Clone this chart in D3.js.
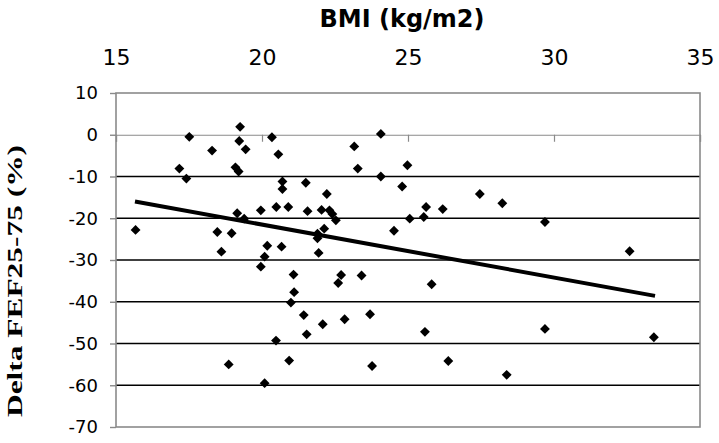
<!DOCTYPE html>
<html>
<head>
<meta charset="utf-8">
<script src="https://cdn.jsdelivr.net/npm/d3@7"></script>
<style>
  body { margin: 0; background: #fff; }
  svg { display: block; }
</style>
</head>
<body>
<svg id="chart" width="719" height="443"></svg>
<script>
// BMI vs change in FEF25-75
const bmi = [
    19.25, 17.51, 20.34, 19.22, 19.44, 18.29, 20.56, 17.17, 19.09, 19.20,
    17.41, 20.70, 21.50, 20.70, 22.22, 20.49, 20.90, 19.96, 21.56, 19.15,
    22.04, 22.31, 22.41, 22.53, 19.39, 15.67, 18.47, 18.96, 22.13, 21.90,
    21.90, 20.18, 20.67, 18.61, 21.94, 20.09, 19.96, 21.08, 22.71, 21.10,
    20.99, 21.43, 22.08, 21.53, 20.48, 18.86, 20.93, 20.09, 22.61, 24.07,
    23.16, 24.98, 23.28, 24.07, 24.80, 27.46, 28.23, 25.62, 26.19, 25.06,
    25.54, 24.52, 23.41, 25.81, 22.83, 23.70, 25.58, 23.77, 26.38, 28.38,
    29.69, 32.59, 29.69, 33.42
];
const deltaFef = [
    1.9, -0.5, -0.6, -1.5, -3.5, -3.8, -4.7, -8.1, -7.8, -8.8,
    -10.5, -11.2, -11.5, -13.0, -14.2, -17.3, -17.3, -18.1, -18.3, -18.8,
    -18.0, -18.1, -19.0, -20.5, -20.1, -22.8, -23.3, -23.6, -22.5, -23.7,
    -24.8, -26.6, -26.8, -28.0, -28.3, -29.2, -31.6, -33.5, -33.6, -37.7,
    -40.2, -43.2, -45.4, -47.8, -49.3, -55.0, -54.1, -59.5, -35.5, 0.2,
    -2.8, -7.3, -8.1, -10.0, -12.4, -14.2, -16.4, -17.3, -17.8, -20.1,
    -19.7, -23.0, -33.7, -35.8, -44.2, -43.0, -47.2, -55.4, -54.2, -57.5,
    -20.9, -27.9, -46.5, -48.5
];

// linear trend line end points
const trendBmi = [15.65, 33.46];
const trendDelta = [-16.0, -38.6];

const xTicks = [15, 20, 25, 30, 35];
const yTicks = [10, 0, -10, -20, -30, -40, -50, -60, -70];

const margin = {top: 93, right: 19, bottom: 16, left: 116};
const width = 719 - margin.left - margin.right;
const height = 443 - margin.top - margin.bottom;

const svg = d3.select("#chart");
const g = svg.append("g")
    .attr("transform", `translate(${margin.left},${margin.top})`);

const x = d3.scaleLinear().domain([15, 35]).range([0, width]);
const y = d3.scaleLinear().domain([-70, 10]).range([height, 0]);

// horizontal grid lines, the edge ones and the zero line are grey
g.selectAll("line.grid")
    .data(yTicks.filter(d => d !== 10 && d !== -70 && d !== 0))
    .enter().append("line")
    .attr("class", "grid")
    .attr("x1", 0).attr("x2", width)
    .attr("y1", d => y(d)).attr("y2", d => y(d))
    .attr("stroke", "#000")
    .attr("stroke-width", 1.6);

// plot frame
g.append("rect")
    .attr("x", 0).attr("y", 0)
    .attr("width", width).attr("height", height)
    .attr("fill", "none")
    .attr("stroke", "#8a8a8a")
    .attr("stroke-width", 1.6);

// y axis (plain hyphen for the minus, like the original)
const yAxis = g.append("g")
    .call(d3.axisLeft(y).tickValues(yTicks).tickSize(6).tickPadding(12)
        .tickFormat(d => String(d)));
yAxis.select(".domain").remove();
yAxis.selectAll(".tick line").attr("stroke", "#8a8a8a").attr("stroke-width", 1.4);
yAxis.selectAll("text")
    .attr("font-family", "'DejaVu Sans', Verdana, sans-serif")
    .attr("font-size", 18)
    .attr("fill", "#000");

// x axis crosses at zero, labels sit above the plot
const xAxisLine = g.append("g")
    .attr("transform", `translate(0,${y(0)})`)
    .call(d3.axisBottom(x).tickValues(xTicks).tickSize(7).tickFormat(""));
xAxisLine.select(".domain").attr("stroke", "#8a8a8a").attr("stroke-width", 1.2);
xAxisLine.selectAll(".tick line").attr("stroke", "#8a8a8a").attr("stroke-width", 1.2);

const xLabels = g.append("g")
    .call(d3.axisTop(x).tickValues(xTicks).tickSize(0).tickPadding(28));
xLabels.select(".domain").remove();
xLabels.selectAll("text")
    .attr("font-family", "'DejaVu Sans', Verdana, sans-serif")
    .attr("font-size", 22)
    .attr("fill", "#000");

// trend line
const trendLine = d3.line()
    .x(d => x(d[0]))
    .y(d => y(d[1]));
g.append("path")
    .datum(d3.zip(trendBmi, trendDelta))
    .attr("d", trendLine)
    .attr("fill", "none")
    .attr("stroke", "#000")
    .attr("stroke-width", 4);

// points
const diamond = d3.symbol().type(d3.symbolDiamond2).size(62);
g.selectAll("path.pt")
    .data(d3.zip(bmi, deltaFef))
    .enter().append("path")
    .attr("class", "pt")
    .attr("d", diamond)
    .attr("transform", d => `translate(${x(d[0])},${y(d[1])})`)
    .attr("fill", "#000");

// titles
svg.append("text")
    .attr("x", 402)
    .attr("y", 27)
    .attr("text-anchor", "middle")
    .attr("font-family", "'DejaVu Sans', Verdana, sans-serif")
    .attr("font-weight", "bold")
    .attr("font-size", 24)
    .text("BMI (kg/m2)");

svg.append("text")
    .attr("transform", "translate(22,281) rotate(-90)")
    .attr("text-anchor", "middle")
    .attr("font-family", "'Liberation Serif', 'Times New Roman', serif")
    .attr("font-weight", "bold")
    .attr("font-size", 21)
    .attr("textLength", 272)
    .attr("lengthAdjust", "spacingAndGlyphs")
    .text("Delta FEF25-75 (%)");
</script>
</body>
</html>
